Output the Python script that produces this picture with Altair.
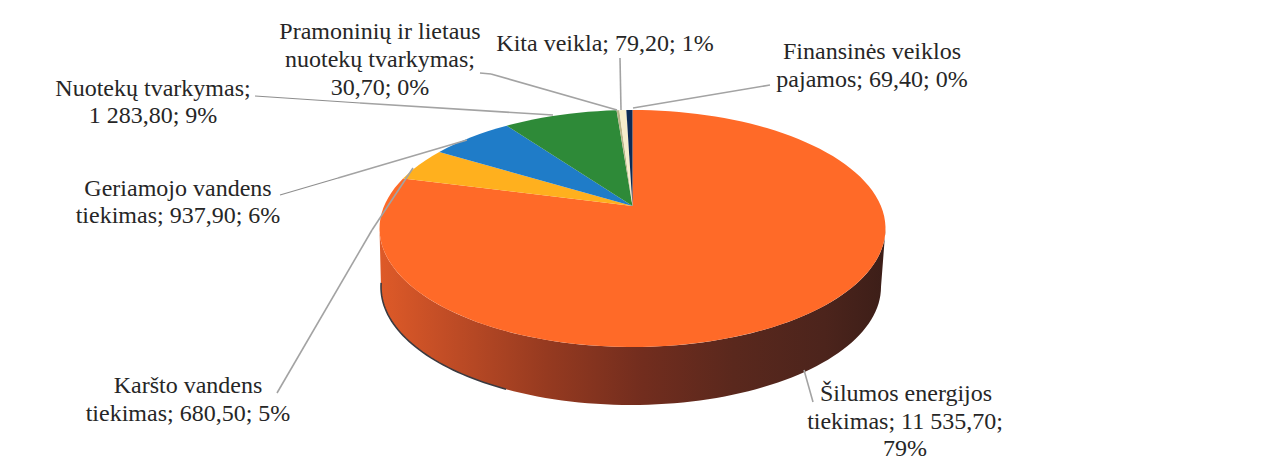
import math
import altair as alt
import pandas as pd

# Slices clockwise from the top
names = ["Šilumos energijos tiekimas", "Karšto vandens tiekimas", "Geriamojo vandens tiekimas",
         "Nuotekų tvarkymas", "Pramoninių ir lietaus nuotekų tvarkymas", "Kita veikla", "Finansinės veiklos pajamos"]
values = [11535.70, 680.50, 937.90, 1283.80, 30.70, 79.20, 69.40]
colors = ["#FF6A28", "#FFB01E", "#1F7CC8", "#2E8A38", "#B9B58A", "#F6EDCB", "#0C2B55"]

# Perspective of the tilted disc
CX, CY, RX, RY = 632.5, 228.5, 253.0, 118.5
TILT = 0.10            # perspective shift of the rim angles
APEX_Y = 0.19          # where the centre of the pie sits, as a share of RY above the middle
DEPTH_DX, DEPTH_DY = -1.5 / RX, -58.5 / RY
BOTTOM_SX, BOTTOM_SY = 250.0 / RX, 118.0 / RY


def rim(theta):
    z = complex(math.cos(theta), math.sin(theta))
    w = (z + TILT) / (1 + TILT * z)
    return math.atan2(w.imag, w.real)


rows = []
total = sum(values)
start = 0.0
for name, value in zip(names, values):
    sweep = value / total * 2 * math.pi
    steps = max(2, int(value / total * 140))
    rows.append({"slice": name, "o": 0, "x": 0.0, "y": APEX_Y})
    for i in range(steps + 1):
        t = rim(start + sweep * i / steps)
        rows.append({"slice": name, "o": i + 1, "x": math.sin(t), "y": math.cos(t)})
    start += sweep
top = pd.DataFrame(rows)

side_rows = []
n = 90
for i in range(n + 1):
    t = math.radians(90 + 180 * i / n)
    side_rows.append({"o": i, "x": math.sin(t), "y": math.cos(t)})
for i in range(n + 1):
    t = math.radians(270 - 180 * i / n)
    side_rows.append({"o": n + 1 + i, "x": DEPTH_DX + BOTTOM_SX * math.sin(t), "y": DEPTH_DY + BOTTOM_SY * math.cos(t)})
side = pd.DataFrame(side_rows)

edge_rows = []
for i in range(41):
    t = math.radians(272 - 62 * i / 40)
    edge_rows.append({"o": i, "x": DEPTH_DX + BOTTOM_SX * math.sin(t), "y": DEPTH_DY + BOTTOM_SY * math.cos(t)})
edge = pd.DataFrame(edge_rows)

x_scale = alt.Scale(domain=[-1, 1], range=[CX - RX - 8, CX + RX - 8])
y_scale = alt.Scale(domain=[-1, 1], range=[CY + RY - 8, CY - RY - 8])
X = alt.X("x:Q", scale=x_scale, axis=None)
Y = alt.Y("y:Q", scale=y_scale, axis=None)

gradient = alt.Gradient(
    gradient="linear", x1=0, x2=1, y1=0, y2=0,
    stops=[
        alt.GradientStop(offset=0.0, color="#DE5A28"),
        alt.GradientStop(offset=0.12, color="#C44E26"),
        alt.GradientStop(offset=0.33, color="#963A20"),
        alt.GradientStop(offset=0.52, color="#722D1E"),
        alt.GradientStop(offset=0.70, color="#5A281D"),
        alt.GradientStop(offset=0.88, color="#4C241C"),
        alt.GradientStop(offset=1.0, color="#3C1E18"),
    ],
)

side_layer = alt.Chart(side).mark_line(filled=True, interpolate="linear-closed", fill=gradient, strokeWidth=0).encode(
    x=X, y=Y, order="o:Q")
edge_layer = alt.Chart(edge).mark_line(color="#3A3A40", strokeWidth=1.6).encode(x=X, y=Y, order="o:Q")
top_layer = alt.Chart(top).mark_line(filled=True, interpolate="linear-closed", strokeWidth=0).encode(
    x=X, y=Y, order="o:Q",
    fill=alt.Fill("slice:N", scale=alt.Scale(domain=names, range=colors), legend=None),
)


def seg(x1, y1, x2, y2, color="#A3A3A3", width=1.6):
    return alt.Chart(pd.DataFrame({"a": [0]})).mark_rule(color=color, strokeWidth=width).encode(
        x=alt.value(x1 - 8), y=alt.value(y1 - 8), x2=alt.value(x2 - 8), y2=alt.value(y2 - 8))


def txt(line, cx, cy):
    return alt.Chart(pd.DataFrame({"t": [line]})).mark_text(
        font="Liberation Serif", fontSize=24, color="#262626", align="center", baseline="middle"
    ).encode(text="t:N", x=alt.value(cx - 8), y=alt.value(cy - 8))


leaders = [
    seg(480, 73, 491, 74), seg(491, 74, 617, 110),
    seg(620, 58, 621, 110),
    seg(770, 85, 633, 108),
    seg(255, 96, 360, 103, "#8E8E8E", 1.1), seg(360, 103, 553, 115),
    seg(280, 195, 338, 178, "#8E8E8E", 1.1), seg(338, 178, 467, 140),
    seg(277, 393, 372, 230), seg(372, 230, 413, 168),
    seg(804, 370, 813, 402),
]

labels = [
    txt("Pramoninių ir lietaus", 380, 32), txt("nuotekų tvarkymas;", 380, 60), txt("30,70; 0%", 380, 88),
    txt("Kita veikla; 79,20; 1%", 605, 44),
    txt("Finansinės veiklos", 872, 52), txt("pajamos; 69,40; 0%", 872, 80),
    txt("Nuotekų tvarkymas;", 153, 89), txt("1 283,80; 9%", 153, 116),
    txt("Geriamojo vandens", 178, 189), txt("tiekimas; 937,90; 6%", 178, 216),
    txt("Karšto vandens", 188, 386), txt("tiekimas; 680,50; 5%", 188, 414),
    txt("Šilumos energijos", 906, 394), txt("tiekimas; 11 535,70;", 905, 422), txt("79%", 905, 449),
]

chart = alt.layer(side_layer, edge_layer, top_layer, *leaders, *labels).properties(
    width=1245, height=454, padding=0, autosize=alt.AutoSizeParams(type="none"),
    background="white",
).configure_view(stroke=None)

chart.save("out.html", embed_options={"renderer": "svg", "actions": False})
